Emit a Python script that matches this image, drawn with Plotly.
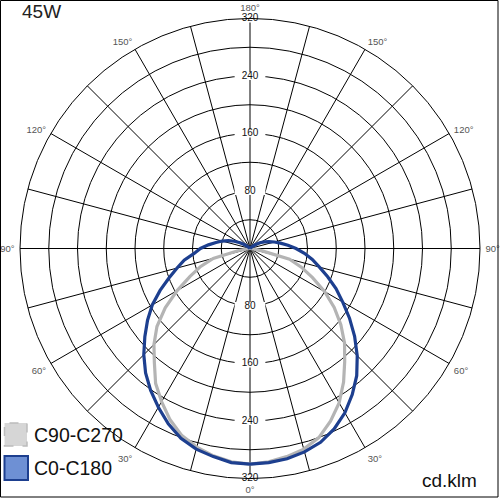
import plotly.graph_objects as go

# gamma angles (deg) and intensities (cd/klm)
gamma = list(range(0, 185, 5))
c0 = [300, 299, 297, 293, 287, 277, 264, 248, 231, 211, 190, 169, 149, 132, 115, 100, 88, 76, 64,
      53, 43, 35, 28, 22, 16, 9, 3, 0, 0, 0, 0, 0, 0, 0, 0, 0, 0]
c180 = [300, 299, 294, 289, 281, 269, 255, 241, 226, 209, 191, 174, 157, 138, 120, 105, 93, 78, 69,
        58, 48, 40, 32, 24, 16, 9, 3, 0, 0, 0, 0, 0, 0, 0, 0, 0, 0]
c90 = [300, 298, 294, 289, 280, 265, 248, 227, 205, 186, 165, 143, 120, 96, 76, 57, 15, 0, 0,
       0, 0, 0, 0, 0, 0, 0, 0, 0, 0, 0, 0, 0, 0, 0, 0, 0, 0]
c270 = [300, 298, 293, 286, 277, 263, 246, 229, 207, 189, 169, 144, 117, 92, 73, 53, 16, 0, 0,
        0, 0, 0, 0, 0, 0, 0, 0, 0, 0, 0, 0, 0, 0, 0, 0, 0, 0]

radial_ticks = [80, 160, 240, 320]
angle_ticks = list(range(0, 360, 15))
angle_text = [(f"{min(a, 360 - a)}°" if a % 30 == 0 else "") for a in angle_ticks]

FONT = "Liberation Sans, Arial, sans-serif"


def closed(right, left):
    th = [g for g in reversed(gamma)] + [360 - g for g in gamma]
    r = list(reversed(right)) + list(left)
    return r, th


fig = go.Figure()

r_g, th_g = closed(c90, c270)
fig.add_trace(go.Scatterpolar(r=r_g, theta=th_g, mode="lines",
                              line=dict(color="#b4b4b4", width=3.2), name="C90-C270",
                              showlegend=False))
r_b, th_b = closed(c0, c180)
fig.add_trace(go.Scatterpolar(r=r_b, theta=th_b, mode="lines",
                              line=dict(color="#1d3f8f", width=3.2), name="C0-C180",
                              showlegend=False))

# radial tick labels (top and bottom) with white background bars
fig.add_trace(go.Scatterpolar(
    r=radial_ticks + radial_ticks,
    theta=[180] * len(radial_ticks) + [0] * len(radial_ticks),
    mode="markers+text",
    text=[str(v) for v in radial_ticks] * 2,
    textposition="middle center",
    textfont=dict(family=FONT, size=10, color="#111111"),
    marker=dict(symbol="line-ew", size=22, color="white",
                line=dict(color="white", width=8)),
    cliponaxis=False, showlegend=False, hoverinfo="skip"))

fig.update_layout(
    width=500, height=500,
    margin=dict(l=0, r=0, t=0, b=0),
    paper_bgcolor="white",
    showlegend=False,
    polar=dict(
        domain=dict(x=[0.04, 0.96], y=[0.043, 0.963]),
        bgcolor="white",
        radialaxis=dict(range=[0, 320], tickvals=[40, 80, 120, 160, 200, 240, 280, 320],
                        showticklabels=False, ticks="", showline=False,
                        gridcolor="black", gridwidth=1),
        angularaxis=dict(rotation=270, direction="counterclockwise",
                         tickvals=angle_ticks, ticktext=angle_text,
                         ticks="outside", ticklen=3, tickcolor="rgba(0,0,0,0)",
                         showline=True, linecolor="black", linewidth=1,
                         gridcolor="black", gridwidth=1,
                         tickfont=dict(family=FONT, size=9.5, color="#555555")),
    ),
)

shapes = [
    dict(type="rect", xref="paper", yref="paper", x0=0.001, x1=0.996, y0=0.006, y1=0.999,
         line=dict(color="black", width=1), fillcolor="rgba(0,0,0,0)"),
    dict(type="rect", xref="paper", yref="paper", x0=0.009, x1=0.054, y0=0.108, y1=0.154,
         line=dict(color="#bcbcbc", width=1.5, dash="dash"), fillcolor="#d6d6d6"),
    dict(type="rect", xref="paper", yref="paper", x0=0.009, x1=0.056, y0=0.040, y1=0.088,
         line=dict(color="#1d3f8f", width=2), fillcolor="#6e90d4"),
]
fig.update_layout(shapes=shapes)

ann = [
    dict(text="45W", x=0.04, y=0.978, xanchor="left", yanchor="middle",
         font=dict(family=FONT, size=19, color="#222222")),
    dict(text="C90-C270", x=0.064, y=0.131, xanchor="left", yanchor="middle",
         font=dict(family=FONT, size=19.5, color="#111111")),
    dict(text="C0-C180", x=0.064, y=0.064, xanchor="left", yanchor="middle",
         font=dict(family=FONT, size=19.5, color="#111111")),
    dict(text="cd.klm", x=0.958, y=0.04, xanchor="right", yanchor="middle",
         font=dict(family=FONT, size=19, color="#111111")),
]
for a in ann:
    a.update(xref="paper", yref="paper", showarrow=False)
fig.update_layout(annotations=ann)

fig.write_html("out.html", config={"displayModeBar": False},
               post_script="document.body.style.margin='0';")
